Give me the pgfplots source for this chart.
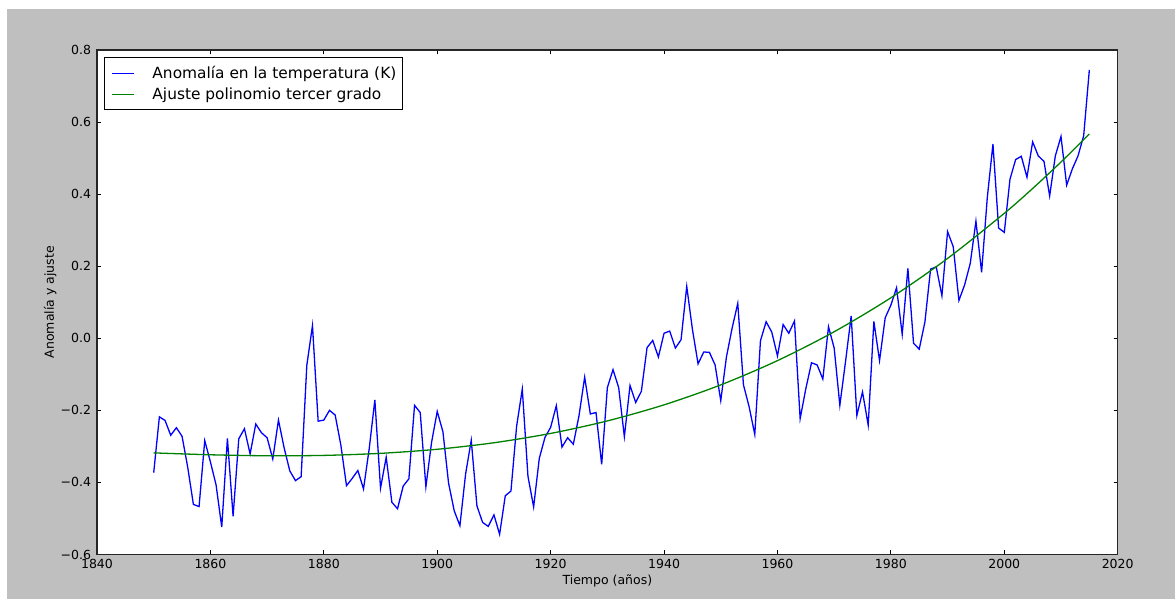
\documentclass[border=0pt]{standalone}
\usepackage{fontspec}
\setmainfont{DejaVu Sans}
\usepackage{pgfplots}
\pgfplotsset{compat=1.18}
\usepackage{pgfplotstable}
\definecolor{bggray}{RGB}{191,191,191}
\definecolor{mplblue}{RGB}{0,0,255}
\definecolor{mplgreen}{RGB}{0,128,0}
\pgfplotstableread{
year anom
1850 -0.373
1851 -0.218
1852 -0.228
1853 -0.269
1854 -0.248
1855 -0.272
1856 -0.358
1857 -0.461
1858 -0.467
1859 -0.284
1860 -0.343
1861 -0.407
1862 -0.524
1863 -0.278
1864 -0.494
1865 -0.279
1866 -0.251
1867 -0.321
1868 -0.238
1869 -0.262
1870 -0.276
1871 -0.335
1872 -0.227
1873 -0.304
1874 -0.368
1875 -0.395
1876 -0.384
1877 -0.075
1878 0.035
1879 -0.230
1880 -0.227
1881 -0.200
1882 -0.213
1883 -0.296
1884 -0.409
1885 -0.389
1886 -0.367
1887 -0.418
1888 -0.307
1889 -0.171
1890 -0.416
1891 -0.330
1892 -0.455
1893 -0.473
1894 -0.410
1895 -0.390
1896 -0.186
1897 -0.206
1898 -0.412
1899 -0.289
1900 -0.203
1901 -0.259
1902 -0.402
1903 -0.479
1904 -0.520
1905 -0.377
1906 -0.283
1907 -0.465
1908 -0.511
1909 -0.522
1910 -0.490
1911 -0.544
1912 -0.437
1913 -0.424
1914 -0.244
1915 -0.141
1916 -0.383
1917 -0.468
1918 -0.333
1919 -0.275
1920 -0.247
1921 -0.187
1922 -0.302
1923 -0.276
1924 -0.294
1925 -0.215
1926 -0.108
1927 -0.210
1928 -0.206
1929 -0.350
1930 -0.137
1931 -0.087
1932 -0.137
1933 -0.273
1934 -0.131
1935 -0.178
1936 -0.147
1937 -0.026
1938 -0.006
1939 -0.052
1940 0.014
1941 0.020
1942 -0.027
1943 -0.004
1944 0.144
1945 0.025
1946 -0.071
1947 -0.038
1948 -0.039
1949 -0.074
1950 -0.173
1951 -0.052
1952 0.028
1953 0.097
1954 -0.129
1955 -0.190
1956 -0.267
1957 -0.007
1958 0.046
1959 0.017
1960 -0.049
1961 0.038
1962 0.014
1963 0.048
1964 -0.223
1965 -0.140
1966 -0.068
1967 -0.074
1968 -0.113
1969 0.032
1970 -0.027
1971 -0.186
1972 -0.065
1973 0.062
1974 -0.214
1975 -0.149
1976 -0.241
1977 0.047
1978 -0.062
1979 0.057
1980 0.092
1981 0.140
1982 0.011
1983 0.194
1984 -0.014
1985 -0.030
1986 0.045
1987 0.192
1988 0.198
1989 0.118
1990 0.296
1991 0.254
1992 0.105
1993 0.148
1994 0.208
1995 0.325
1996 0.183
1997 0.390
1998 0.539
1999 0.306
2000 0.294
2001 0.441
2002 0.496
2003 0.505
2004 0.447
2005 0.545
2006 0.506
2007 0.491
2008 0.395
2009 0.506
2010 0.560
2011 0.425
2012 0.470
2013 0.506
2014 0.562
2015 0.745
}\anomdata
\pgfplotstableread{
year fit
1850 -0.318
1860 -0.3233
1870 -0.3260
1880 -0.3250
1890 -0.3193
1900 -0.3080
1910 -0.2899
1920 -0.2640
1930 -0.2293
1940 -0.1847
1950 -0.1293
1960 -0.0620
1970 0.0182
1980 0.1124
1990 0.2216
2000 0.3468
2005 0.4157
2010 0.4891
2015 0.567
}\fitdata
\begin{document}
\begin{tikzpicture}[x=1pt,y=1pt]
\fill[white] (0,0) rectangle (1175,599);
\fill[bggray] (7,0) rectangle (1175,589.7);
\begin{axis}[
  at={(97pt,44.5pt)}, anchor=south west,
  scale only axis, width=1020.7pt, height=504.5pt,
  xmin=1840, xmax=2020, ymin=-0.6, ymax=0.8,
  axis background/.style={fill=white},
  axis line style={line width=1.2pt, black!85},
  xtick={1840,1860,1880,1900,1920,1940,1960,1980,2000,2020},
  xticklabels={1840,1860,1880,1900,1920,1940,1960,1980,2000,2020},
  ytick={-0.6,-0.4,-0.2,0,0.2,0.4,0.6,0.8},
  yticklabels={−0.6,−0.4,−0.2,0.0,0.2,0.4,0.6,0.8},
  tick align=inside, major tick length=4pt,
  tick style={line width=0.8pt, black},
  ticklabel style={font=\fontsize{12.5}{15}\selectfont},
  xticklabel style={inner sep=0pt, yshift=-4.8pt, anchor=north},
  yticklabel style={inner sep=0pt, xshift=-5.8pt, anchor=east},
  xlabel={Tiempo (años)}, ylabel={Anomalía y ajuste},
  label style={font=\fontsize{12.5}{15}\selectfont},
  xlabel style={at={(axis description cs:0.5,-0.05907)}, anchor=base, inner sep=0pt},
  ylabel style={at={(axis description cs:-0.04213,0.5)}, anchor=base, inner sep=0pt},
  legend cell align=left,
  legend style={at={(0.00715,0.98553)}, anchor=north west, draw=black, line width=0.9pt,
    inner xsep=0.35pt, inner ysep=5pt, row sep=0pt,
    font=\fontsize{15.4}{18.5}\selectfont,
    nodes={inner xsep=5.65pt, inner ysep=2.5pt, text height=13pt, text depth=3pt}},
  legend image code/.code={\path[draw=none] (0pt,0pt) -- (41.7pt,0pt); \draw[#1] (6.7pt,0pt) -- (29pt,0pt);},
]
\addplot[mplblue, line width=1.3pt] table[x=year, y=anom]{\anomdata};
\addlegendentry{Anomalía en la temperatura (K)}
\addplot[mplgreen, line width=1.3pt, smooth] table[x=year, y=fit]{\fitdata};
\addlegendentry{Ajuste polinomio tercer grado}
\end{axis}
\end{tikzpicture}
\end{document}
